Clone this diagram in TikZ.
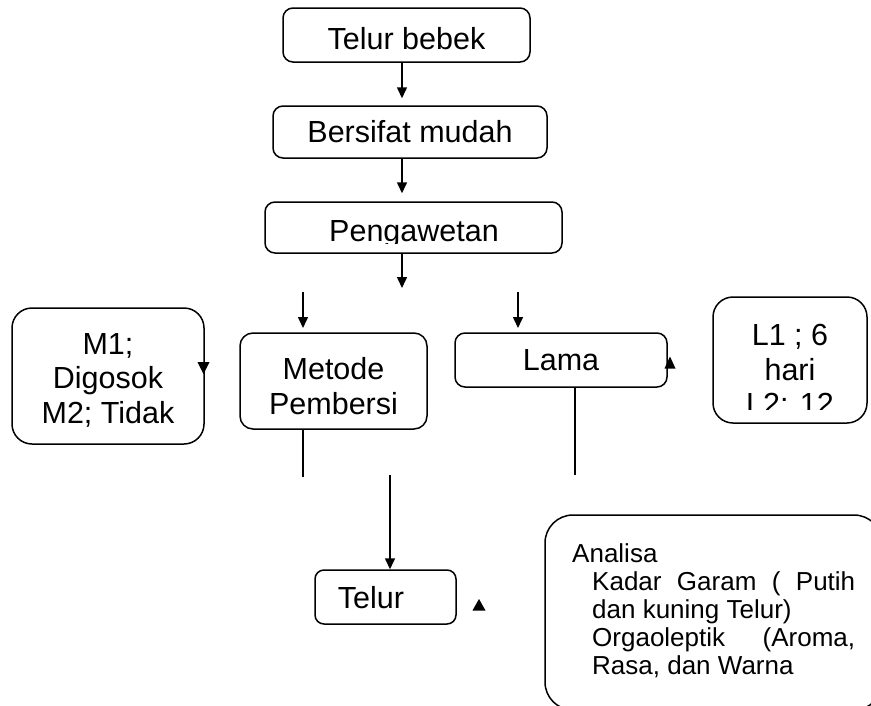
\documentclass[tikz,border=0pt]{standalone}
\usepackage{fontspec}
\setmainfont{Liberation Sans}
\usetikzlibrary{arrows.meta}
\tikzset{
  box/.style={draw, line width=1.5pt, rounded corners=10pt, inner sep=0pt, align=center},
  big/.style={font=\fontsize{30.5}{34.5}\selectfont},
  lbl/.style={big, inner sep=0pt, align=center},
  arr/.style={line width=1.5pt, -{Triangle[length=11pt,width=10pt]}},
  ln/.style={line width=1.5pt},
  tri/.style={fill=black}
}
\begin{document}
\begin{tikzpicture}[x=1pt,y=-1pt]
\useasboundingbox (0,0) rectangle (871,705);
\clip (0,0) rectangle (871,705);
\fill[white] (0,0) rectangle (871,705);

% boxes
\node[box,big,text height=28pt,text depth=0pt,minimum width=247pt,minimum height=54pt] (tb) at (406.5,35) {Telur bebek};
\node[box,big,minimum width=274pt,minimum height=52pt] (bm) at (410,132) {Bersifat mudah};
\node[box,minimum width=297pt,minimum height=51pt] (pg) at (413.5,227.5) {};
\begin{scope}
  \clip (300,205) rectangle (540,243.5);
  \node[lbl,anchor=base] (pgt) at (414,241.5) {Pengawetan};
\end{scope}

\node[box,rounded corners=20pt,minimum width=192pt,minimum height=136pt] (m1) at (108,376) {};
\node[lbl] (m1t) at (108,380) {M1;\\Digosok\\M2; Tidak};
\node[box,rounded corners=13pt,minimum width=187pt,minimum height=96pt] (me) at (333.5,381) {};
\node[lbl] (met) at (333.5,386) {Metode\\Pembersi};
\node[box,big,minimum width=212pt,minimum height=54pt] (la) at (561,360) {Lama};
\node[box,rounded corners=20pt,minimum width=154pt,minimum height=126pt] (l1) at (790,360) {};
\begin{scope}
  \clip (715,300) rectangle (865,409.5);
  \node[lbl,anchor=north] (l1t) at (790,324) {L1 ; 6\\hari\\L2: 12};
\end{scope}

\node[box,rounded corners=9pt,minimum width=141pt,minimum height=54pt] (te) at (385.5,597) {};
\node[lbl] (tet) at (371,598) {Telur};

\node[box,rounded corners=28pt,minimum width=337pt,minimum height=195pt] (an) at (713.5,612.5) {};
\node[inner sep=0pt,anchor=north west,align=left,font=\fontsize{26}{28}\selectfont] (ant) at (572,543)
  {Analisa\\
   \hspace*{20pt}\makebox[263pt][s]{Kadar Garam ( Putih}\\
   \hspace*{20pt}dan kuning Telur)\\
   \hspace*{20pt}\makebox[263pt][s]{Orgaoleptik (Aroma,}\\
   \hspace*{20pt}Rasa, dan Warna};

% connectors
\coordinate (cx) at (402,0);
\draw[arr,shorten >=7pt] (tb.south -| cx) -- (bm.north -| cx);
\draw[arr,shorten >=8pt] (bm.south -| cx) -- (pg.north -| cx);
\coordinate (p3) at (402,288);
\draw[arr] (pg.south -| cx) -- (p3);

\coordinate (a1s) at (303,292);
\coordinate (a1e) at (303,328);
\draw[arr] (a1s) -- (a1e);
\coordinate (a2s) at (518,292);
\coordinate (a2e) at (518,328);
\draw[arr] (a2s) -- (a2e);

\coordinate (l1e) at (303,477);
\draw[ln] (me.south -| l1e) -- (l1e);
\coordinate (l2e) at (575,475);
\draw[ln] (la.south -| l2e) -- (l2e);

\coordinate (a3s) at (390,475);
\draw[arr] (a3s) -- (te.north -| a3s);

% loose arrow heads
\fill[tri] (197.5,362) -- (209.5,362) -- (203.5,374) -- cycle;
\fill[tri] (664.5,368.5) -- (675.5,368.5) -- (670,356.5) -- cycle;
\fill[tri] (472.5,610.5) -- (485.5,610.5) -- (479,599) -- cycle;
\end{tikzpicture}
\end{document}
